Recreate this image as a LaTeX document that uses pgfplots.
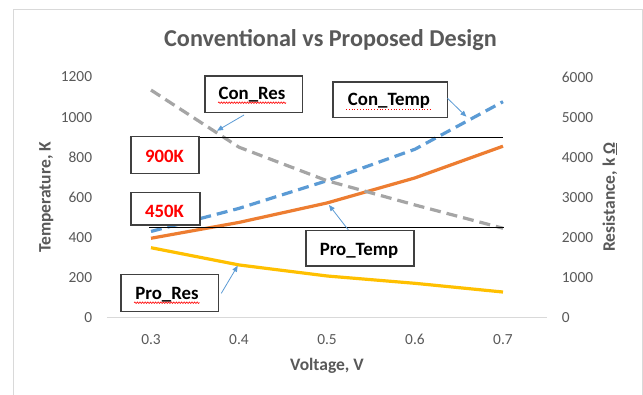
\documentclass[border=0pt]{standalone}
\usepackage{fontspec}
\setmainfont{Carlito}
\usepackage{pgfplots}
\pgfplotsset{compat=1.18}
\usetikzlibrary{arrows.meta,decorations.pathmorphing}

\definecolor{txtgray}{HTML}{595959}
\definecolor{axgray}{HTML}{D9D9D9}
\definecolor{boxgray}{HTML}{404040}
\definecolor{cblue}{HTML}{5B9BD5}
\definecolor{corange}{HTML}{ED7D31}
\definecolor{cgray}{HTML}{A5A5A5}
\definecolor{cyellow}{HTML}{FFC000}

\pgfplotsset{
  twinaxis/.style={
    at={(107pt,76.3pt)}, anchor=south west,
    scale only axis, width=440pt, height=240.7pt,
    xmin=0.25, xmax=0.75,
    axis line style={draw=none}, tick style={draw=none},
    ticklabel style={font=\fontsize{15.4}{18}\selectfont, text=txtgray, inner sep=0pt},
    /pgf/number format/assume math mode=true,
    /pgf/number format/1000 sep={},
    label style={font=\bfseries\fontsize{17.5}{20}\selectfont, text=txtgray},
  },
  series/.style={line width=3.2pt, no marks, line join=round},
}

\begin{document}
\begin{tikzpicture}[x=1pt,y=1pt]
\path[use as bounding box] (0,0) rectangle (643,394);
\clip (0,0) rectangle (643,394);
\fill[white] (0,0) rectangle (643,394);
\draw[axgray, line width=1pt] (13,-10) rectangle (642,384);

% temperature, left scale
\begin{axis}[twinaxis,
  ymin=0, ymax=1200, ytick={0,200,400,600,800,1000,1200},
  xtick={0.3,0.4,0.5,0.6,0.7},
  xticklabel style={anchor=center, yshift=-21.6pt, /pgf/number format/.cd, fixed, precision=1},
  yticklabel style={anchor=east, xshift=-14.7pt},
  xlabel={Voltage, V},
  xlabel style={at={(axis description cs:0.5,-0.2214)}, anchor=base},
  ylabel={Temperature, K},
  ylabel style={at={(axis description cs:-0.1284,0.5)}, rotate=0, anchor=base},
]
\draw[axgray, line width=1pt] (rel axis cs:0,0) -- (rel axis cs:1,0);
\addplot[series, cblue, dash pattern=on 11pt off 6pt]
  coordinates {(0.3,430) (0.4,545) (0.5,683) (0.6,840) (0.7,1077)};
\addplot[series, corange]
  coordinates {(0.3,396) (0.4,475) (0.5,572) (0.6,697) (0.7,855)};
\coordinate (a900) at (axis cs:0.276,900);
\coordinate (b900) at (axis cs:0.700,900);
\coordinate (a450) at (axis cs:0.298,450);
\coordinate (b450) at (axis cs:0.701,450);
\end{axis}

% resistance, right scale
\begin{axis}[twinaxis,
  ymin=0, ymax=6000, ytick={0,1000,2000,3000,4000,5000,6000},
  xtick=\empty,
  yticklabel pos=right,
  yticklabel style={anchor=west, xshift=14.7pt},
  ylabel={Resistance, k \underline{Ω}},
  ylabel style={at={(axis description cs:1.1545,0.5)}, rotate=0, anchor=base},
]
\addplot[series, cgray, dash pattern=on 11pt off 6pt]
  coordinates {(0.3,5675) (0.4,4250) (0.5,3415) (0.6,2810) (0.7,2230)};
\addplot[series, cyellow]
  coordinates {(0.3,1745) (0.4,1315) (0.5,1040) (0.6,857) (0.7,640)};
\end{axis}

% limit lines
\draw[black, line width=1pt] (a900) -- (b900);
\draw[black, line width=1pt] (a450) -- (b450);

% title
\node[anchor=base, font=\bfseries\fontsize{24.2}{29}\selectfont, text=txtgray]
  at (330.5,347) {Conventional vs Proposed Design};

% callout boxes
\tikzset{callout/.style={draw=boxgray, line width=1.2pt, fill=white},
         calltext/.style={anchor=base, font=\bfseries\fontsize{18.8}{22}\selectfont},
         pointer/.style={cblue, line width=0.8pt, -{Triangle[length=6pt,width=5pt]}}}
\path[callout] (205,281.3) rectangle (302.5,318);
\path[callout] (333,276.7) rectangle (447.5,312);
\path[callout] (306,128) rectangle (414,163.3);
\path[callout] (121,82.7) rectangle (218.4,119.3);
\path[callout] (131,220.3) rectangle (199,257.3);
\path[callout] (131,169) rectangle (200,201.3);

\node[calltext] at (252,294) {Con\_Res};
\node[calltext] at (389,288) {Con\_Temp};
\node[calltext] at (359,138) {Pro\_Temp};
\node[calltext] at (167,94) {Pro\_Res};
\node[calltext, text=red] at (164.5,231.3) {900K};
\node[calltext, text=red] at (164.5,176.7) {450K};

% spelling marks under the names
\draw[red, line width=0.6pt, decorate, decoration={snake, amplitude=0.8pt, segment length=2.6pt}]
  (218,291.3) -- (286,291.3);
\draw[red, line width=0.6pt, decorate, decoration={snake, amplitude=0.8pt, segment length=2.6pt}]
  (134,91.3) -- (199.6,91.3);
\draw[red, line width=0.8pt, dotted] (346,285) -- (431,285);

\draw[pointer] (244,279) -- (217,263.3);
\draw[pointer] (447.5,295.7) -- (466.4,277.3);
\draw[pointer] (348.4,164) -- (329,189);
\draw[pointer] (221.3,100.7) -- (237.7,128.3);
\end{tikzpicture}
\end{document}
